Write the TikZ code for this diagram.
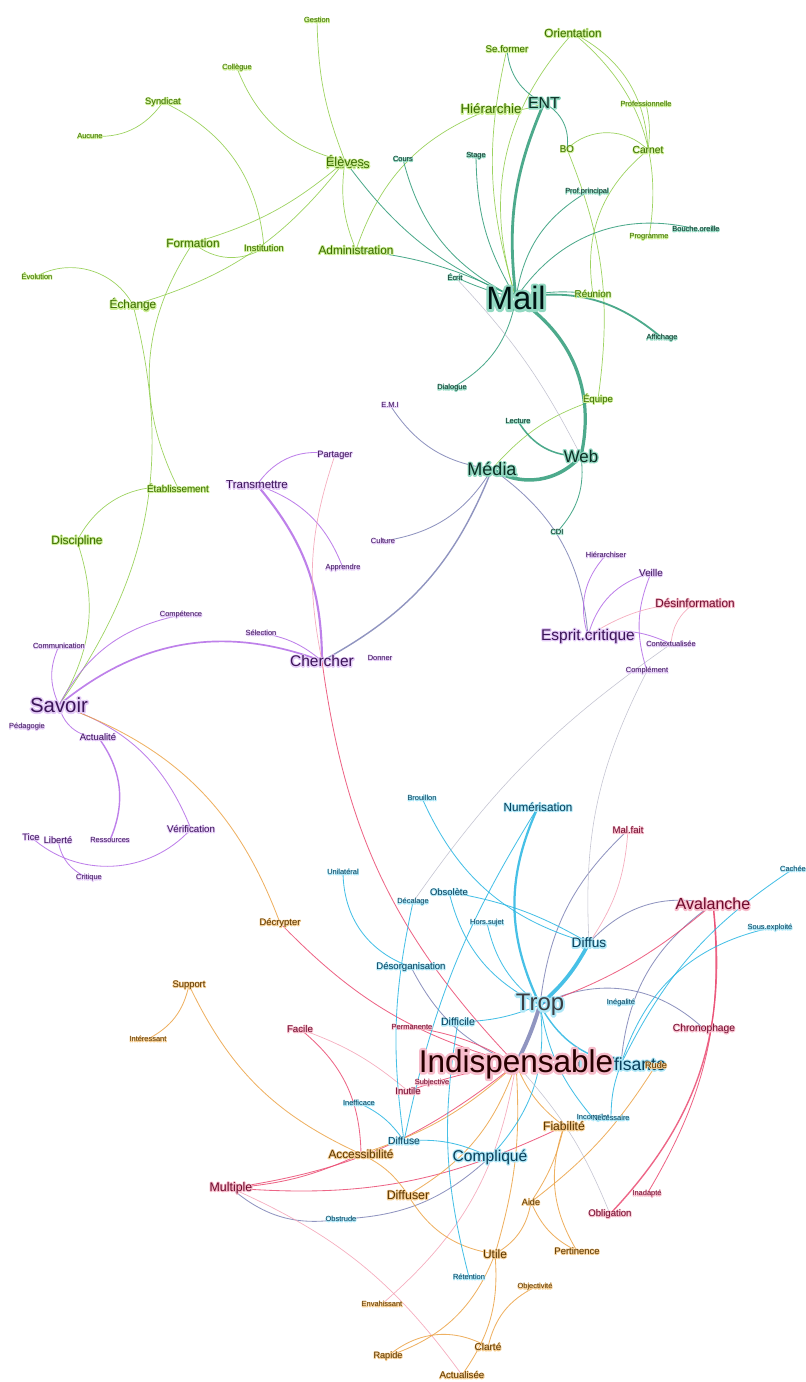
\documentclass[tikz,border=0pt]{standalone}
\usepackage{fontspec}
\setmainfont{Liberation Sans}
\usetikzlibrary{backgrounds}

% label colours (text / halo)
\definecolor{grntxt}{HTML}{3A6B00}   \definecolor{grnhalo}{HTML}{CDEF95}
\definecolor{tealtxt}{HTML}{0B2E24}  \definecolor{tealhalo}{HTML}{93D9C2}
\definecolor{purtxt}{HTML}{3B1458}   \definecolor{purhalo}{HTML}{E4CBF7}
\definecolor{redtxt}{HTML}{6E0A2C}   \definecolor{redhalo}{HTML}{F7BCCB}
\definecolor{cyantxt}{HTML}{083F5A}  \definecolor{cyanhalo}{HTML}{AEE7F7}
\definecolor{orgtxt}{HTML}{5A3500}   \definecolor{orghalo}{HTML}{F5CE94}
% edge colours
\definecolor{edgegrn}{HTML}{8CCB45}
\definecolor{edgeteal}{HTML}{2E9B78}
\definecolor{edgeslate}{HTML}{7D82B5}
\definecolor{edgepur}{HTML}{B36BE6}
\definecolor{edgered}{HTML}{EA4B72}
\definecolor{edgepink}{HTML}{F3A0B4}
\definecolor{edgeorg}{HTML}{EBA347}
\definecolor{edgecyan}{HTML}{27B5E2}
\definecolor{edgegrey}{HTML}{B8B8C8}

\newcommand{\halocol}{white}
\newcommand{\halow}{0.5}
% label with a stroked outline under it, Gephi style
\newcommand{\glow}[1]{%
  \rlap{\color{\halocol}\special{pdf:literal direct 1 Tr \halow\space w 1 j}#1%
    \special{pdf:literal direct 0 Tr}}#1}

\tikzset{
  fsz/.style={font=\fontsize{#1pt}{#1pt}\selectfont,
    execute at begin node={\pgfmathsetmacro\halow{0.16*#1}}},
  grnlbl/.style={text=grntxt, execute at begin node={\def\halocol{grnhalo}}},
  teallbl/.style={text=tealtxt, execute at begin node={\def\halocol{tealhalo}}},
  purlbl/.style={text=purtxt, execute at begin node={\def\halocol{purhalo}}},
  redlbl/.style={text=redtxt, execute at begin node={\def\halocol{redhalo}}},
  cyanlbl/.style={text=cyantxt, execute at begin node={\def\halocol{cyanhalo}}},
  orglbl/.style={text=orgtxt, execute at begin node={\def\halocol{orghalo}}},
  grnedge/.style={edgegrn, line width=0.5pt, opacity=0.85},
  tealedge/.style={edgeteal, line width=0.6pt, opacity=0.85},
  slateedge/.style={edgeslate, line width=0.6pt, opacity=0.85},
  puredge/.style={edgepur, line width=0.6pt, opacity=0.85},
  pinkedge/.style={edgepink, line width=0.5pt, opacity=0.85},
  rededge/.style={edgered, line width=0.6pt, opacity=0.85},
  orgedge/.style={edgeorg, line width=0.6pt, opacity=0.85},
  cyanedge/.style={edgecyan, line width=0.6pt, opacity=0.85},
  greyedge/.style={edgegrey, line width=0.4pt, opacity=0.85},
}

\begin{document}
\begin{tikzpicture}[x=0.025cm, y=-0.025cm, every node/.style={inner sep=0pt}]
  \useasboundingbox (0,0) rectangle (805,1382);

  % --- green cluster
  \node[grnlbl, fsz=5.3] (gestion) at (317,20) {\glow{Gestion}};
  \node[grnlbl, fsz=5.3] (collegue) at (237,68) {\glow{Collègue}};
  \node[grnlbl, fsz=6.6] (syndicat) at (163,102) {\glow{Syndicat}};
  \node[grnlbl, fsz=5.3] (aucune) at (90,136) {\glow{Aucune}};
  \node[grnlbl, fsz=9] (parents) at (348,164) {\glow{Parents}};
  \node[grnlbl, fsz=9] (eleves) at (345,161) {\glow{Élèves}};
  \node[grnlbl, fsz=8.4] (formation) at (193,243) {\glow{Formation}};
  \node[grnlbl, fsz=6.6] (institution) at (264,248) {\glow{Institution}};
  \node[grnlbl, fsz=8.4] (administration) at (356,250) {\glow{Administration}};
  \node[grnlbl, fsz=5.3] (evolution) at (37,276) {\glow{Évolution}};
  \node[grnlbl, fsz=8.4] (echange) at (133,305) {\glow{Échange}};
  \node[grnlbl, fsz=7] (etablissement) at (178,488) {\glow{Établissement}};
  \node[grnlbl, fsz=8.5] (discipline) at (77,541) {\glow{Discipline}};
  \node[grnlbl, fsz=6.9] (seformer) at (507,49) {\glow{Se.former}};
  \node[grnlbl, fsz=8.3] (orientation) at (573,33) {\glow{Orientation}};
  \node[grnlbl, fsz=9.5] (hierarchie) at (491,109) {\glow{Hiérarchie}};
  \node[grnlbl, fsz=5.3] (professionnelle) at (646,104) {\glow{Professionnelle}};
  \node[grnlbl, fsz=6.9] (bo) at (567,149) {\glow{BO}};
  \node[grnlbl, fsz=7.3] (carnet) at (648,150) {\glow{Carnet}};
  \node[grnlbl, fsz=5.3] (programme) at (649,237) {\glow{Programme}};
  \node[grnlbl, fsz=7] (reunion) at (593,294) {\glow{Réunion}};
  \node[grnlbl, fsz=6.8] (equipe) at (598,399) {\glow{Équipe}};

  % --- teal cluster
  \node[teallbl, fsz=11.3] (ent) at (544,103) {\glow{ENT}};
  \node[teallbl, fsz=5.3] (cours) at (403,159) {\glow{Cours}};
  \node[teallbl, fsz=5.3] (stage) at (476,156) {\glow{Stage}};
  \node[teallbl, fsz=5.3] (profprincipal) at (587,192) {\glow{Prof.principal}};
  \node[teallbl, fsz=5.3] (boucheoreille) at (696,229) {\glow{Bouche.oreille}};
  \node[teallbl, fsz=5.3] (ecrit) at (455,277) {\glow{Écrit}};
  \node[teallbl, fsz=23, text=black!85!teal] (mail) at (516,298) {\glow{Mail}};
  \node[teallbl, fsz=5.3] (affichage) at (662,338) {\glow{Affichage}};
  \node[teallbl, fsz=5.3] (dialogue) at (452,388) {\glow{Dialogue}};
  \node[teallbl, fsz=5.3] (lecture) at (518,421) {\glow{Lecture}};
  \node[teallbl, fsz=12] (web) at (581,456) {\glow{Web}};
  \node[teallbl, fsz=12.8] (media) at (492,469) {\glow{Média}};
  \node[teallbl, fsz=5.3] (cdi) at (557,532) {\glow{CDI}};

  % --- purple cluster
  \node[purlbl, fsz=5.3] (emi) at (390,405) {\glow{E.M.I}};
  \node[purlbl, fsz=6.5] (partager) at (335,455) {\glow{Partager}};
  \node[purlbl, fsz=8.2] (transmettre) at (257,485) {\glow{Transmettre}};
  \node[purlbl, fsz=5.3] (culture) at (383,541) {\glow{Culture}};
  \node[purlbl, fsz=5.3] (apprendre) at (343,568) {\glow{Apprendre}};
  \node[purlbl, fsz=5.3] (competence) at (181,615) {\glow{Compétence}};
  \node[purlbl, fsz=5.3] (selection) at (261,633) {\glow{Sélection}};
  \node[purlbl, fsz=5.3] (communication) at (59,646) {\glow{Communication}};
  \node[purlbl, fsz=11] (chercher) at (322,661) {\glow{Chercher}};
  \node[purlbl, fsz=5.3] (donner) at (380,658) {\glow{Donner}};
  \node[purlbl, fsz=14.5] (savoir) at (59,705) {\glow{Savoir}};
  \node[purlbl, fsz=5.3] (pedagogie) at (27,727) {\glow{Pédagogie}};
  \node[purlbl, fsz=6.7] (actualite) at (98,737) {\glow{Actualité}};
  \node[purlbl, fsz=6.9] (verification) at (191,829) {\glow{Vérification}};
  \node[purlbl, fsz=6.6] (tice) at (31,837) {\glow{Tice}};
  \node[purlbl, fsz=6.6] (liberte) at (58,840) {\glow{Liberté}};
  \node[purlbl, fsz=5.3] (ressources) at (110,840) {\glow{Ressources}};
  \node[purlbl, fsz=5.3] (critique) at (89,878) {\glow{Critique}};
  \node[purlbl, fsz=5.3] (hierarchiser) at (606,555) {\glow{Hiérarchiser}};
  \node[purlbl, fsz=7] (veille) at (651,573) {\glow{Veille}};
  \node[purlbl, fsz=11] (espritcritique) at (588,636) {\glow{Esprit.critique}};
  \node[purlbl, fsz=5.3] (contextualisee) at (671,644) {\glow{Contextualisée}};
  \node[purlbl, fsz=5.3] (complement) at (647,671) {\glow{Complément}};

  % --- cyan cluster
  \node[cyanlbl, fsz=5.3] (brouillon) at (422,798) {\glow{Brouillon}};
  \node[cyanlbl, fsz=8.3] (numerisation) at (538,807) {\glow{Numérisation}};
  \node[cyanlbl, fsz=5.3] (cachee) at (793,869) {\glow{Cachée}};
  \node[cyanlbl, fsz=5.3] (unilateral) at (343,872) {\glow{Unilatéral}};
  \node[cyanlbl, fsz=5.3] (decalage) at (413,902) {\glow{Décalage}};
  \node[cyanlbl, fsz=6.7] (obsolete) at (449,892) {\glow{Obsolète}};
  \node[cyanlbl, fsz=5.3] (horssujet) at (487,923) {\glow{Hors.sujet}};
  \node[cyanlbl, fsz=5.3] (sousexploite) at (770,928) {\glow{Sous.exploité}};
  \node[cyanlbl, fsz=9.7] (diffus) at (589,943) {\glow{Diffus}};
  \node[cyanlbl, fsz=6.8] (desorganisation) at (411,967) {\glow{Désorganisation}};
  \node[cyanlbl, fsz=17, text=black!85!cyan] (trop) at (540,1005) {\glow{Trop}};
  \node[cyanlbl, fsz=5.3] (inegalite) at (621,1003) {\glow{Inégalité}};
  \node[cyanlbl, fsz=7.5] (difficile) at (458,1022) {\glow{Difficile}};
  \node[cyanlbl, fsz=12.5] (insuffisante) at (621,1064) {\glow{Insuffisante}};
  \node[cyanlbl, fsz=5.3] (incomplet) at (593,1118) {\glow{Incomplet}};
  \node[cyanlbl, fsz=5.3] (necessaire) at (611,1118) {\glow{Nécessaire}};
  \node[cyanlbl, fsz=5.3] (inefficace) at (359,1103) {\glow{Inefficace}};
  \node[cyanlbl, fsz=7.3] (diffuse) at (404,1141) {\glow{Diffuse}};
  \node[cyanlbl, fsz=11.1] (complique) at (490,1157) {\glow{Compliqué}};
  \node[cyanlbl, fsz=5.3] (obstrude) at (341,1219) {\glow{Obstrude}};
  \node[cyanlbl, fsz=5.3] (retention) at (469,1277) {\glow{Rétention}};

  % --- red cluster
  \node[redlbl, fsz=8.4] (desinformation) at (695,603) {\glow{Désinformation}};
  \node[redlbl, fsz=6.8] (malfait) at (628,830) {\glow{Mal.fait}};
  \node[redlbl, fsz=11.4] (avalanche) at (713,904) {\glow{Avalanche}};
  \node[redlbl, fsz=7.3] (chronophage) at (704,1029) {\glow{Chronophage}};
  \node[redlbl, fsz=6.9] (facile) at (300,1029) {\glow{Facile}};
  \node[redlbl, fsz=5.3] (permanente) at (412,1027) {\glow{Permanente}};
  \node[redlbl, fsz=22.4, text=black!85!red] (indispensable) at (516,1064) {\glow{Indispensable}};
  \node[redlbl, fsz=5.3] (subjective) at (432,1083) {\glow{Subjective}};
  \node[redlbl, fsz=6.7] (inutile) at (408,1091) {\glow{Inutile}};
  \node[redlbl, fsz=8.8] (multiple) at (231,1188) {\glow{Multiple}};
  \node[redlbl, fsz=5.3] (inadapte) at (647,1194) {\glow{Inadapté}};
  \node[redlbl, fsz=6.8] (obligation) at (610,1214) {\glow{Obligation}};

  % --- orange cluster
  \node[orglbl, fsz=6.7] (decrypter) at (280,923) {\glow{Décrypter}};
  \node[orglbl, fsz=6.7] (support) at (189,985) {\glow{Support}};
  \node[orglbl, fsz=5.3] (interessant) at (148,1039) {\glow{Intéressant}};
  \node[orglbl, fsz=6.5] (rude) at (656,1065) {\glow{Rude}};
  \node[orglbl, fsz=8.6] (fiabilite) at (564,1126) {\glow{Fiabilité}};
  \node[orglbl, fsz=8.4] (accessibilite) at (361,1154) {\glow{Accessibilité}};
  \node[orglbl, fsz=8.8] (diffuser) at (408,1195) {\glow{Diffuser}};
  \node[orglbl, fsz=6.4] (aide) at (531,1202) {\glow{Aide}};
  \node[orglbl, fsz=8.5] (utile) at (495,1254) {\glow{Utile}};
  \node[orglbl, fsz=6.7] (pertinence) at (577,1251) {\glow{Pertinence}};
  \node[orglbl, fsz=5.3] (objectivite) at (535,1287) {\glow{Objectivité}};
  \node[orglbl, fsz=5.3] (envahissant) at (382,1304) {\glow{Envahissant}};
  \node[orglbl, fsz=6.5] (rapide) at (388,1356) {\glow{Rapide}};
  \node[orglbl, fsz=7.1] (clarte) at (488,1347) {\glow{Clarté}};
  \node[orglbl, fsz=6.9] (actualisee) at (462,1375) {\glow{Actualisée}};

  % --- edges, behind the labels
  \begin{scope}[on background layer]
    \foreach \a/\b/\c in {eleves/gestion/10, eleves/collegue/28, syndicat/aucune/30,
        syndicat/institution/30, eleves/formation/12, eleves/echange/18,
        institution/formation/35, administration/eleves/15, evolution/echange/45,
        etablissement/formation/30, echange/savoir/25, discipline/etablissement/35,
        discipline/savoir/25, administration/hierarchie/25, mail/orientation/30,
        orientation/carnet/30, orientation/programme/30, professionnelle/carnet/10,
        ent/hierarchie/15, bo/carnet/45, bo/equipe/15, reunion/carnet/30,
        media/equipe/15, mail/seformer/15}
      \draw[grnedge] (\a.center) to[bend left=\c] (\b.center);

    \foreach \a/\b/\c in {mail/eleves/15, mail/cours/25, mail/stage/15,
        mail/profprincipal/25, mail/boucheoreille/35, mail/ecrit/5, mail/reunion/10,
        mail/dialogue/25, ent/seformer/30, ent/bo/35, administration/mail/10, web/cdi/25}
      \draw[tealedge] (\a.center) to[bend left=\c] (\b.center);
    \foreach \a/\b/\c/\w in {mail/ent/15/2.0, mail/web/35/2.3, web/media/40/2.5,
        mail/affichage/25/1.3, web/lecture/30/1.1}
      \draw[tealedge, line width=\w pt] (\a.center) to[bend left=\c] (\b.center);

    \foreach \a/\b/\c in {media/emi/25, media/culture/25, media/espritcritique/25,
        trop/malfait/20, diffus/avalanche/30, insuffisante/avalanche/25,
        indispensable/desorganisation/20, obstrude/multiple/25, complique/obstrude/20,
        trop/chronophage/35}
      \draw[slateedge] (\a.center) to[bend left=\c] (\b.center);
    \draw[slateedge, line width=1pt] (media.center) to[bend left=20] (chercher.center);
    \draw[slateedge, line width=2.8pt] (trop.center) to[bend left=5] (indispensable.center);

    \foreach \a/\b/\c in {transmettre/partager/35, transmettre/apprendre/25,
        selection/chercher/15, savoir/competence/25, savoir/communication/25,
        actualite/savoir/40, savoir/verification/25, verification/tice/45,
        critique/liberte/30, espritcritique/hierarchiser/30, espritcritique/veille/30,
        espritcritique/contextualisee/20, complement/veille/20}
      \draw[puredge] (\a.center) to[bend left=\c] (\b.center);
    \foreach \a/\b/\c/\w in {transmettre/chercher/20/1.5, savoir/chercher/30/1.2,
        actualite/ressources/30/1.0}
      \draw[puredge, line width=\w pt] (\a.center) to[bend left=\c] (\b.center);

    \foreach \a/\b/\c in {chercher/partager/15, espritcritique/desinformation/15,
        contextualisee/desinformation/25, malfait/diffus/15, facile/inutile/10,
        multiple/actualisee/15, indispensable/envahissant/20}
      \draw[pinkedge] (\a.center) to[bend left=\c] (\b.center);

    \foreach \a/\b/\c in {indispensable/chercher/18, indispensable/decrypter/15,
        avalanche/trop/10, avalanche/inadapte/18, facile/accessibilite/25,
        permanente/indispensable/10, indispensable/multiple/15,
        accessibilite/multiple/10, fiabilite/multiple/15, inutile/indispensable/5}
      \draw[rededge] (\a.center) to[bend left=\c] (\b.center);
    \draw[rededge, line width=1pt] (avalanche.center) to[bend left=25] (obligation.center);

    \foreach \a/\b/\c in {savoir/decrypter/25, support/interessant/25,
        accessibilite/support/20, indispensable/accessibilite/12,
        accessibilite/diffuser/15, fiabilite/indispensable/15, pertinence/fiabilite/25,
        fiabilite/aide/10, aide/utile/25, pertinence/aide/20, utile/diffuser/25,
        utile/rapide/25, utile/actualisee/20, rapide/clarte/35, clarte/objectivite/25,
        rude/aide/10, indispensable/utile/10, indispensable/diffuser/20}
      \draw[orgedge] (\a.center) to[bend left=\c] (\b.center);

    \foreach \a/\b/\c in {trop/obsolete/25, trop/horssujet/20, diffus/brouillon/25,
        obsolete/diffus/10, insuffisante/cachee/15, insuffisante/sousexploite/30,
        trop/complique/25, trop/difficile/10, desorganisation/unilateral/35,
        diffuse/decalage/10, diffuse/numerisation/10, inefficace/diffuse/15,
        diffuse/complique/15, retention/difficile/12, incomplet/trop/15,
        necessaire/insuffisante/10}
      \draw[cyanedge] (\a.center) to[bend left=\c] (\b.center);
    \foreach \a/\b/\c/\w in {trop/numerisation/25/1.6, diffus/trop/10/2.6,
        insuffisante/trop/25/1.0}
      \draw[cyanedge, line width=\w pt] (\a.center) to[bend left=\c] (\b.center);

    \foreach \a/\b/\c in {ecrit/web/8, diffus/complement/15,
        decalage/contextualisee/10, indispensable/obligation/10}
      \draw[greyedge] (\a.center) to[bend left=\c] (\b.center);
  \end{scope}
\end{tikzpicture}
\end{document}
